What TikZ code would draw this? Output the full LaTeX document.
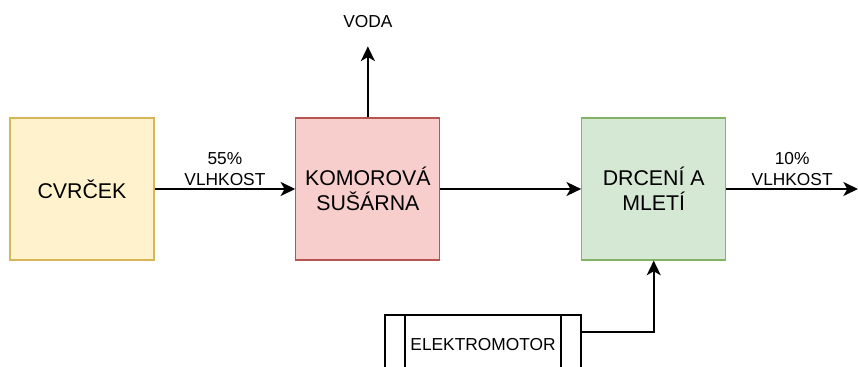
\documentclass[tikz,border=0pt]{standalone}
\usepackage{fontspec}
\setmainfont{Liberation Sans}
\usepackage{xcolor}
\usetikzlibrary{arrows.meta, positioning, calc}

\definecolor{cvrfill}{HTML}{FFF2CC}
\definecolor{cvrdraw}{HTML}{D6B656}
\definecolor{komfill}{HTML}{F8CECC}
\definecolor{komdraw}{HTML}{B85450}
\definecolor{drcfill}{HTML}{D5E8D4}
\definecolor{drcdraw}{HTML}{82B366}

\begin{document}
\begin{tikzpicture}[
    x=0.75pt, y=-0.75pt,
    node distance=105.5pt,
    block/.style={rectangle, line width=0.9pt, align=center, minimum width=108pt, minimum height=106.5pt, font=\fontsize{16}{19}\selectfont},
    motorbox/.style={rectangle, draw, line width=1.2pt, minimum width=147pt, minimum height=45pt, font=\fontsize{13}{16}\selectfont,
        path picture={
            \draw[line width=1.2pt] ([xshift=15pt]path picture bounding box.north west) -- ([xshift=15pt]path picture bounding box.south west);
            \draw[line width=1.2pt] ([xshift=-15pt]path picture bounding box.north east) -- ([xshift=-15pt]path picture bounding box.south east);
        }},
    lbl/.style={align=center, inner sep=2pt, font=\fontsize{13}{15.5}\selectfont},
    line/.style={draw=black, line width=1.4pt, -{Stealth[length=11pt, width=10.5pt, inset=3pt]}}
]
\useasboundingbox (0,0) rectangle (858,367);

% Nodes
\node[block, draw=cvrdraw, fill=cvrfill] (cvr) at (82,189) {CVRČEK};
\node[block, draw=komdraw, fill=komfill, right=of cvr] (kom) {KOMOROVÁ\\SUŠÁRNA};
\node[block, draw=drcdraw, fill=drcfill, right=of kom] (drc) {DRCENÍ A\\MLETÍ};
\node[motorbox] (motor) at (483,345) {ELEKTROMOTOR};

\coordinate[above=53.25pt of kom.north] (vodaend);
\node[lbl, above=12pt of vodaend] (voda) {VODA};
\coordinate (out) at (858,189);

% Arrows
\draw[line] (cvr) -- node[lbl, above] {55\%\\VLHKOST} (kom);
\draw[line] (kom.north) -- (vodaend);
\draw[line] (kom) -- (drc);
\draw[line] (drc.east) -- node[lbl, above] {10\%\\VLHKOST} (out);
\draw[line] ([yshift=-13.5pt]motor.north east) -| (drc.south);

\end{tikzpicture}
\end{document}
